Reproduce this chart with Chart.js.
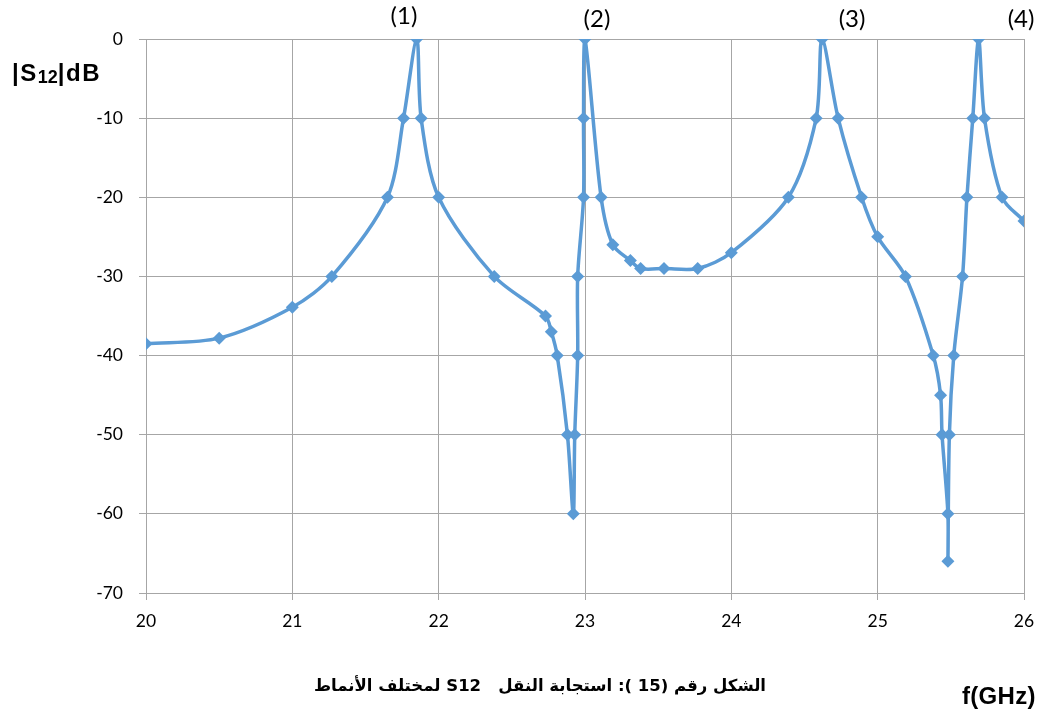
<!DOCTYPE html>
<html>
<head>
<meta charset="utf-8">
<script src="https://cdn.jsdelivr.net/npm/chart.js@4.4.1/dist/chart.umd.min.js"></script>
<style>
  html, body { margin: 0; padding: 0; background: #fff; }
  #wrap { position: relative; width: 1039px; height: 716px; }
  canvas { position: absolute; left: 0; top: 0; }
  .lbl { position: absolute; white-space: nowrap; color: #000; }
  .peak { font-family: Lato, "Open Sans", sans-serif; font-size: 24px; transform: translateX(-50%); }
  #ylab { left: 12px; top: 59px; font-family: "Liberation Sans", Arial, sans-serif; font-weight: bold; font-size: 24px; letter-spacing: 1.5px; }
  #ylab sub { font-size: 18px; vertical-align: -2px; letter-spacing: 0; }
  #xlab { left: 962px; top: 682px; font-family: "Liberation Sans", Arial, sans-serif; font-weight: bold; font-size: 24px; letter-spacing: 0.3px; }
  #cap { left: 540px; top: 676px; transform: translateX(-50%); font-family: "DejaVu Sans", "Liberation Sans", sans-serif; font-weight: bold; font-size: 16.5px; direction: rtl; }
</style>
</head>
<body>
<div id="wrap">
  <canvas id="c" width="1039" height="716"></canvas>
  <div class="lbl" id="ylab">|S<sub>12</sub>|dB</div>
  <div class="lbl" id="xlab">f(GHz)</div>
  <div class="lbl" id="cap">الشكل رقم (15 ): استجابة النقل &nbsp; S12 لمختلف الأنماط</div>
</div>
<script>
// Frequency (GHz) and |S12| (dB), in drawing order
const fx   = [20.00, 20.50, 21.00, 21.27, 21.65, 21.76, 21.85, 21.88, 22.00, 22.38,
              22.73, 22.77, 22.81, 22.88, 22.92, 22.93, 22.95, 22.95, 22.99, 22.99,
              23.00, 23.11, 23.19, 23.31, 23.38, 23.54, 23.77, 24.00, 24.39, 24.58,
              24.62, 24.73, 24.89, 25.00, 25.19, 25.38, 25.43, 25.44, 25.48, 25.48,
              25.49, 25.52, 25.58, 25.61, 25.65, 25.69, 25.73, 25.85, 26.00];
const s12  = [-38.5, -37.8, -33.9, -30, -20, -10, 0, -10, -20, -30,
              -35, -37, -40, -50, -60, -50, -40, -30, -20, -10,
              0, -20, -26, -28, -29, -29, -29, -27, -20, -10,
              0, -10, -20, -25, -30, -40, -45, -50, -60, -66,
              -50, -40, -30, -20, -10, 0, -10, -20, -23];
const xTicks = [20, 21, 22, 23, 24, 25, 26];
const yTicks = [0, -10, -20, -30, -40, -50, -60, -70];
const peakNames = ["(1)", "(2)", "(3)", "(4)"];
const peakFreq  = [21.763, 23.082, 24.825, 25.98];

const pts = fx.map((x, i) => ({ x: x, y: s12[i] }));

const chart = new Chart(document.getElementById('c'), {
  type: 'scatter',
  data: {
    datasets: [{
      data: pts,
      showLine: true,
      borderColor: '#5B9BD5',
      backgroundColor: '#5B9BD5',
      borderWidth: 3.5,
      tension: 0.3,
      pointStyle: 'rectRot',
      pointRadius: 6.5,
      pointHoverRadius: 6.5,
      pointBorderWidth: 0
    }]
  },
  options: {
    responsive: false,
    animation: false,
    layout: { padding: { left: 0, right: 15, top: 39, bottom: 0 } },
    plugins: { legend: { display: false }, tooltip: { enabled: false } },
    scales: {
      x: {
        type: 'linear', min: 20, max: 26,
        afterBuildTicks: s => { s.ticks = xTicks.map(v => ({ value: v })); },
        afterFit: s => { s.height = 123; s.paddingRight = 0; s.paddingLeft = 0; },
        grid: { color: '#A6A6A6', lineWidth: 1, tickLength: 7, drawTicks: true },
        border: { color: '#A6A6A6' },
        ticks: { color: '#000', padding: 11, font: { family: 'Lato, sans-serif', size: 17.5 }, maxRotation: 0 }
      },
      y: {
        type: 'linear', min: -70, max: 0,
        afterBuildTicks: s => { s.ticks = yTicks.map(v => ({ value: v })); },
        afterFit: s => { s.width = 146; s.paddingTop = 0; s.paddingBottom = 0; },
        grid: { color: '#A6A6A6', lineWidth: 1, tickLength: 7, drawTicks: true },
        border: { color: '#A6A6A6' },
        ticks: { color: '#000', padding: 16, font: { family: 'Lato, sans-serif', size: 17.5 } }
      }
    }
  }
});

// Peak labels placed via the chart's own x scale
const wrap = document.getElementById('wrap');
peakNames.forEach((name, i) => {
  const d = document.createElement('div');
  d.className = 'lbl peak';
  d.textContent = name;
  d.style.left = chart.scales.x.getPixelForValue(peakFreq[i]) + 'px';
  d.style.top = (i === 0 ? 0 : 3) + 'px';
  wrap.appendChild(d);
});
</script>
</body>
</html>
